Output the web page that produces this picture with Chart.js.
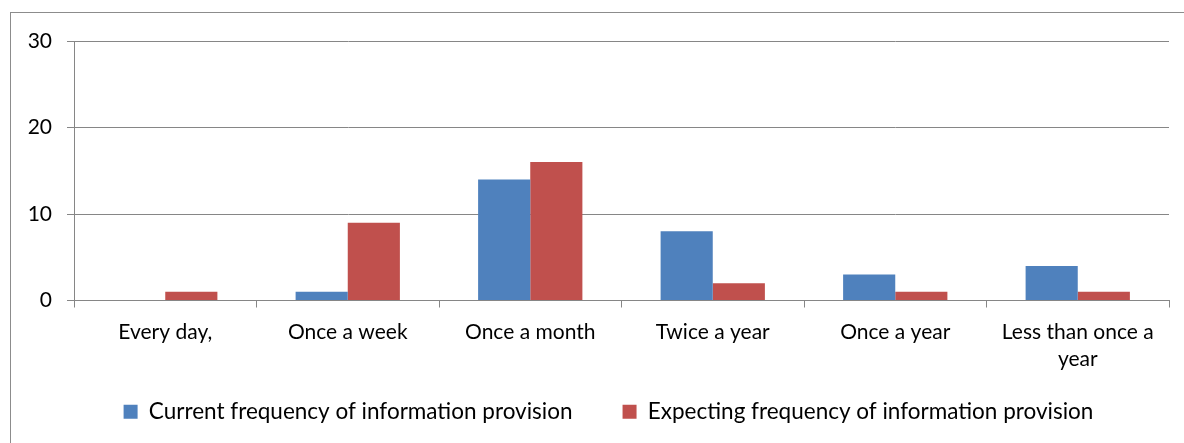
<!DOCTYPE html>
<html>
<head>
<meta charset="utf-8">
<script src="https://cdn.jsdelivr.net/npm/chart.js@4"></script>
<style>
  body { margin: 0; background: #fff; overflow: hidden; }
  .frame { position: absolute; left: 10px; top: 12px; width: 1300px; height: 600px; border: 1px solid #8c8c8c; }
  canvas { position: absolute; left: 0; top: 0; }
</style>
</head>
<body>
<div class="frame"></div>
<canvas id="chart" width="1184" height="443"></canvas>
<script>
// категории и значения
const categories = ['Every day,', 'Once a week', 'Once a month', 'Twice a year', 'Once a year', ['Less than once a', 'year']];
const currentFreq = [0, 1, 14, 8, 3, 4];
const expectingFreq = [1, 9, 16, 2, 1, 1];
const yTicks = [0, 10, 20, 30];

const gridColor = '#868686';
const font = { family: 'Lato', size: 21, lineHeight: 1.3 };

let ctx = document.getElementById('chart').getContext('2d');

// подписи оси X в две строки не должны обрезаться, легенду чуть правее
const labelRoom = {
  id: 'labelRoom',
  afterLayout: function (chart) {
    chart.scales.x.bottom += 40;
    chart.legend.left += 24;
    chart.legend.right += 24;
  }
};

new Chart(ctx, {
  type: 'bar',
  data: {
    labels: categories,
    datasets: [{
      label: 'Current frequency of information provision',
      data: currentFreq,
      backgroundColor: '#4F81BD',
      categoryPercentage: 2 / 3.5,
      barPercentage: 1
    }, {
      label: 'Expecting frequency of information provision',
      data: expectingFreq,
      backgroundColor: '#C0504D',
      categoryPercentage: 2 / 3.5,
      barPercentage: 1
    }]
  },
  plugins: [labelRoom],
  options: {
    responsive: false,
    animation: false,
    layout: { padding: { left: 0, top: 41, right: 15, bottom: 10 } },
    plugins: {
      tooltip: { enabled: false },
      legend: {
        position: 'bottom',
        labels: {
          color: '#000',
          font: { family: 'Lato', size: 22.5 },
          boxWidth: 14,
          boxHeight: 14,
          padding: 50
        }
      }
    },
    scales: {
      x: {
        grid: { drawOnChartArea: false, drawTicks: true, tickLength: 7, color: gridColor, offset: true },
        border: { color: gridColor },
        ticks: { color: '#000', font: font, maxRotation: 0, autoSkip: false, padding: 11 },
        afterFit: function (scale) { scale.height = 50; }
      },
      y: {
        min: 0,
        max: 30,
        afterBuildTicks: function (scale) { scale.ticks = yTicks.map(v => ({ value: v })); },
        grid: { color: gridColor, tickLength: 7 },
        border: { color: gridColor },
        ticks: { color: '#000', font: font, padding: 15 },
        afterFit: function (scale) { scale.width = 74; }
      }
    }
  }
});
</script>
</body>
</html>
